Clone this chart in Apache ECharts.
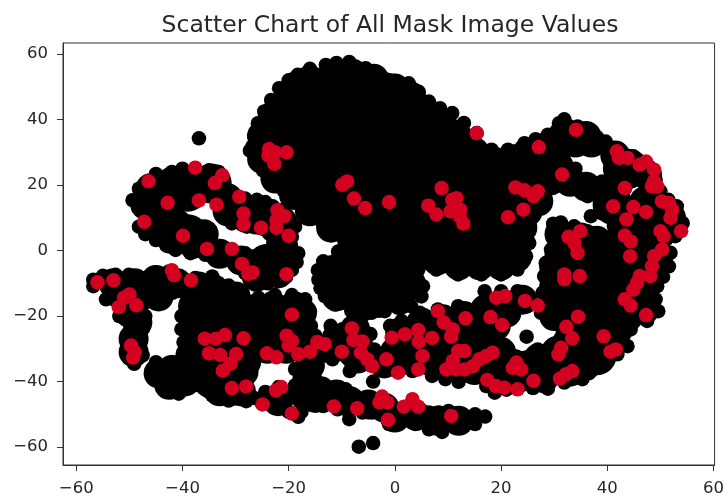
<!DOCTYPE html>
<html><head><meta charset="utf-8">
<style>html,body{margin:0;padding:0;background:#fff}#c{width:727px;height:497px}</style>
<script src="https://cdn.jsdelivr.net/npm/echarts@6/dist/echarts.min.js"></script>
</head><body><div id="c"></div>
<script>
const xTicks=[-60,-40,-20,0,20,40,60];
const yTicks=[-60,-40,-20,0,20,40,60];
const titleText='Scatter Chart of All Mask Image Values';
const maskedValues=[[-56,-9.7],[-53,-9.1],[-50,-13.4],[-51,-14.4],[-52,-17.3],[-48.7,-16.7],[-49.7,-29],[-49,-31],[-49.3,-32.7],[-46.4,21.2],[-42.8,14.6],[-47.2,8.8],[-39.9,4.5],[-37.6,25.3],[-36.9,15.3],[-33.9,20.6],[-32.5,23],[-33.6,14],[-29.3,16.4],[-28.5,11.3],[-28.5,8],[-25.2,7],[-22.1,12.3],[-20.8,10.5],[-22.3,9.3],[-22.3,7],[-20,4.5],[-35.4,.5],[-30.7,.5],[-28.8,-4.1],[-27.6,-7.1],[-26.8,-6.7],[-20.4,-7.2],[-42,-6],[-41.6,-7.5],[-38.4,-9.1],[-19.4,-19.6],[-35.8,-26.9],[-33.7,-26.9],[-32,-25.8],[-28.5,-26.8],[-35,-31.4],[-32.9,-31.9],[-29.9,-31.6],[-31,-34.6],[-32.4,-36.7],[-30.7,-42],[-28,-41.5],[-24.1,-31.4],[-22.3,-32.6],[-20.4,-26],[-19.4,-27.6],[-20,-29],[-18.2,-31.6],[-16,-30.9],[-14.6,-27.9],[-13.2,-28.6],[-10,-30.9],[-8.1,-23.8],[-7.8,-27.3],[-6.1,-27.8],[-6.4,-31.2],[-5.2,-33.2],[-4.3,-35.3],[-1.6,-33.2],[.6,-37.3],[-.6,-26.6],[-21.4,-41.7],[-22.4,-42.7],[-24.9,-47],[-19.4,-49.8],[-11.5,-47.6],[-7.1,-48.2],[-23.7,31],[-22.6,30],[-20.4,30],[-23.8,29],[-22.7,26.5],[-9.9,20.1],[-9,21.1],[-7.7,15.9],[-5.6,13],[-1.1,14.8],[15.4,35.9],[8.8,19.1],[6.3,13.7],[7.8,11],[10.8,15.5],[11.6,16],[10.5,12],[12.3,12.5],[12.2,10.5],[12.9,8.2],[22.7,19.3],[24.4,18.4],[26.9,18.1],[26.1,16.6],[24.2,12.5],[21.3,10.2],[27.1,31.6],[34.1,36.9],[31.5,23.2],[41.8,30.3],[42.2,28.3],[43.8,28.3],[46.1,26.2],[47.3,27.2],[48.8,24.7],[48.8,21.1],[48.4,19.6],[49.4,19.6],[43.3,19.1],[41.1,13.5],[44.9,13.3],[47.3,11.8],[43.6,9.5],[50.3,15],[51.6,14.5],[52.2,12.5],[51.9,10],[53.9,5.9],[50,5.9],[50.6,4.4],[50.3,.3],[48.8,-1.7],[48.4,-4.8],[48.1,-7.8],[46.1,-7.8],[45.6,-9.9],[44.9,-11.9],[43.3,-14.9],[44.4,-16.8],[47.3,-19.7],[43.3,4.6],[44.4,2.8],[44.3,-1.7],[32.7,4.2],[34.9,5.9],[33.8,2.3],[34.4,-.7],[31.9,-7.3],[31.9,-8.8],[34.8,-7.8],[19.1,-14.4],[20.8,-13.9],[24.5,-15.4],[26.9,-16.8],[18,-20.3],[20.2,-22.7],[34.5,-20.2],[32.3,-23.3],[33.4,-26.8],[39.3,-26.2],[40.6,-30.9],[41.6,-30.2],[31.3,-29.7],[30.8,-31.7],[33.4,-36.8],[32.2,-37.8],[31.1,-39.1],[26.1,-39.8],[22.9,-34.2],[22.2,-35.8],[23.8,-36.3],[23.1,-42.4],[20.6,-41.9],[19,-41.4],[17.4,-39.5],[18.4,-31.2],[17.2,-32.2],[15.9,-33.2],[14.7,-35.3],[13.1,-36.3],[11.6,-36.3],[9.7,-36.3],[10.9,-33.7],[11.9,-30.7],[13.1,-30.7],[8.1,-18.5],[9.2,-21.9],[10.9,-24.1],[10.6,-26.3],[13.3,-20.7],[1.9,-25.6],[4.4,-24.3],[4.5,-27.9],[7,-26.7],[5.2,-32.2],[4.4,-36.3],[-2.4,-44.6],[-2.9,-46.4],[-1.4,-46.4],[1.7,-47.7],[3.3,-45.4],[4.4,-47.7],[-1.3,-51.7],[10.6,-50.5]];
const clusterEdge=[[-36.9,34.3],[-6.8,-59.9],[-4.1,-58.8],[-4.1,-40],[24.8,-26.3],
[-49.4,15.4],[-48.2,18.9],[-45,23.4],[-42,24],[-37.6,24.6],[-33.2,24],[-32.3,19.4],[-28.2,15.9],[-24.4,14.8],[-21.3,11.8],[-18.8,7.3],[-19.4,4.2],[-18.2,-.8],[-19.4,-5.9],[-21.9,-8.9],[-26.3,-10.4],[-28.2,-6.9],[-31.3,-2.8],[-35.7,-1.3],[-41.3,.2],[-45,3.2],[-48.2,7.3],[-31.3,12.3],[-30.7,8.3],[-27.9,7.3],[-31.9,16.4],[-33.8,.2],[-36.9,3.2],[-25,-.8],[-28.2,-.8],[-22.9,2.2],[-19.9,1.2],[-21.3,6.3],
[-47,12],[-46.5,21],[-40,25],[-35,24.5],[-26,15.5],[-23,13.5],[-20,9.5],[-24,-10],[-20.5,-8],[-18.5,-3.5],[-33.5,-2],[-38.5,-.8],[-43,1.5],[-47,5],[-29.8,-5],
[-26.8,31.8],[-25.8,38.9],[-23.3,46],[-21.8,49.6],[-18.3,53.7],[-13,56.7],[-8.6,57.6],[-5.5,55.7],[-3,53.1],[2.6,51.1],[6.4,45.5],[10.8,42],[15.4,35.9],[18.2,30.8],[-27.3,30.5],[-24.8,24.4],[-21,18.4],[-17.3,12.8],[-13.5,7.8],[-9.8,4.2],
[-16,55.5],[-11,57.3],[-1,52],[0,51.8],[4.5,48.5],[8.5,43.5],[13,39],[-26.5,35],[-24.6,42.5],[-20,52],[-26,27.5],[-23,21.5],[-19,15.5],[-15.5,10.5],[-11.5,6],
[18.8,29.3],[21.3,30.8],[24.4,32.8],[28.8,35.4],[30.9,38.9],[31.9,40.1],[34.4,37.9],[37.5,35.4],[39.7,33.3],[42.2,30.8],[44.9,28.8],[47.8,25.7],[49.1,21.6],[50,18.1],[53.1,13.5],[54.2,8.4],[52.8,4.4],[51.9,-.7],[51.6,-4.8],[49.4,-10.9],[49.1,-14.9],[49.6,-18.5],[47.5,-21.5],[44.4,-24.1],[43.8,-29.2],[41.9,-31.7],[38.1,-35.3],[35.3,-39.3],[31.9,-40.3],[28.8,-42.2],[23.8,-41.2],[18.8,-43.4],[17.2,-41.4],
[26.5,34],[36,36.5],[51.5,15.5],[50.5,-8],[40,-33.5],[36.5,-37.5],[26,-42],[21,-42.5],
[30,30],[32.5,32],[35,32],[37.5,31],[39.8,32],[28.5,22],[31,25],[34,25],[32.5,19.1],[29.7,19.1],[26.9,13.5],[36.3,16.6],[36.9,21.1],[39,21.1],[40.3,28.8],[40.6,24.7],[42.5,22.7],[46.25,22.7],[45.9,14.5],[47.2,18.6],[39,14.6],[36.9,10.5],[38.8,11.5],[41,18],
[25.3,6.4],[23.1,-5.8],[24.7,-1.7],[25.3,2.3],[20,-7.3],[16.3,-7.3],[11.9,-7.3],[7.8,-5.8],[4.7,-2.7],
[-14.4,-8.9],[-13.2,-13.9],[-11.3,-16.5],[-8.2,-18.5],[-5.7,-19.5],[-13.5,-3.3],[-10.7,-.3],[-4.4,-19],[-1.9,-18.5],[3.1,-17],[.6,-17.5],[5.3,-10.9],[5,-14],[-14.5,-6],[-14,-11.5],
[-56.8,-8.9],[-55,-7.7],[-52.6,-7.4],[-50.1,-7.4],[-47.9,-8.4],[-45.1,-6.7],[-42.6,-6.4],[-40,-8.4],[-37.6,-8.4],[-34.4,-7.9],[-31.3,-10.7],[-28.8,-14.4],[-25.7,-14.4],[-22.6,-13.6],[-19.4,-13.6],[-16.9,-14.9],[-16,-18.5],[-15.8,-23],
[-56.8,-10.9],[-54.4,-14.9],[-51.9,-20],[-49.4,-22],[-50.4,-26.2],[-50.4,-30.6],[-49.1,-34.6],[-45,-34.1],[-43.8,-38.7],[-40.7,-43.7],[-37.9,-41.2],[-39.1,-38.2],
[-50,-12],[-47,-12],[-45,-11],[-43,-10],[-40,-12],[-53,-12],[-46.5,-15.5],[-50,-16],[-53.5,-13],[-51,-18],[-47,-20],[-49,-19],[-47.5,-24],[-48,-28],[-47.5,-32],[-44.4,-16],[-41.9,-12.9],[-40.2,-20],[-40.2,-24],[-39.8,-28],[-41.9,-34.1],[-39,-31],[-42.9,-40.2],[-43.2,-36.7],[-39.4,-36.2],[-40.7,-41],
[-24.4,-29],[-27,-29],[-27.6,-33.1],[-27.6,-36.8],[-28.2,-43.2],[-26.5,-45],[-34.4,-44.2],[-31.3,-45.8],[-28,-46],
[-24.4,-43.2],[-21.9,-41.7],[-25,-46.8],[-21.9,-45.3],[-19.4,-43.2],[-17.6,-49.3],[-18.2,-50.8],[-20,-49.3],[-18,-46],
[-18.8,-36.2],[-18.8,-41.2],[-16.3,-41.2],[-15.5,-37.3],[-15.5,-42.4],[-12.4,-42.4],[-14.1,-32.2],[-11.75,-33.2],[-8.5,-36.8],[-9.25,-42.4],[-7.1,-45.4],[-4.9,-45.4],[-13.5,-45.4],[-11,-45.4],[-9.25,-48.5],[-17.4,-38.3],[-17.4,-42.4],[-8.6,-33.2],[-13.5,-47.5],[-17.1,-46.5],
[-12.1,-23],[-9.9,-24],[-6.1,-24],[-4.6,-25.5],[-3.9,-30.2],[-11.75,-28.1],[-10,-27],[-15,-26],[-16,-28],
[6.4,-49.5],[8.3,-49.5],[10.1,-49],[12.6,-50],[15.1,-50],[17,-50.7],[15.1,-53],[12,-54],[8.9,-55.4],[6.4,-54.6],[3.9,-53],[1.4,-52],[-1.1,-53],[-1.1,-49.5],[-4.3,-49.5],[-6.1,-49.5],[-8.6,-51.5],[-10.8,-48.5],[1.4,-49.5],[3.9,-49.5],[6.7,-52.5],[9.5,-52.5],
[-1.4,-36.3],[3.3,-36.8],[7,-38.3],[9.5,-39.3],[12,-40.1],[14.5,-38.3],[-.9,-23],[1.25,-21.5],[4.7,-19],[8.1,-18],[11.9,-17],[15.6,-17.5],[17.5,-15],[16.9,-12.4],[20,-12.4],[23.1,-12.4],[27.5,-19],[21.25,-21],[18.75,-25.1],[16.9,-28.2],[21.25,-30.7],[24.4,-33.7],[26.9,-30.2],[29.4,-29.2],[30.6,-22],[25,-17],
[29.8,8.2],[31.25,8.6],[30.6,4.4],[29.4,.3],[28.4,-3.8],[28.1,-7.8],[27.8,-12.9],[28.4,-14.9],[30.6,-17.5],[33.75,7.4],[36.25,5.9],[38.75,4.9],[41.25,7.4]];
const clusterFill=[[-16,52],[-12,53],[-8,54],[-4,52.5],[0,49.5],[3,47],[6,42],[9,38],[12,34],[15,30],[-20,47],[-23,41],[-25,35],[-25,28],[-22.5,22],[-19,17],[-16,12],[-12,7],[-8,2.5],[19,27],[23,28],[27,30],[31,34],[34,33],[4,-1],[8,-3],[12,-4.5],[16,-4.5],[20,-4.5],[23,-2],[23.5,3],[24,7],[25,12],[27,15],[30,22],
[-47,14],[-46,19],[-42,21],[-38,21.5],[-34,21],[-44,6],[-41,8],[-42,3.5],[-38,2],[-36,5],[-33,-1],[-29,-3],[-26,-4],[-26,-8],[-22,-7],[-22,-3],[-21,1],[-29,13],[-25,12],[-22,10],[-28,10],[-24.5,9],[-21,6],[-31.5,16],[-31.5,12],
[-53,-10],[-49,-10],[-45,-9],[-41,-10],[-37,-11],[-52,-13],[-48,-14],[-44.5,-14],[-50,-19],[-48.5,-22],[-49.2,-27],[-49.2,-31],[-38,-17],[-38,-23],[-38,-29],[-38.5,-32],[-42,-36.5],[-44.5,-37.5],[-42.5,-41],[-39.5,-40],
[-34,-12],[-30,-14],[-33,-17],[-27,-18],[-23,-17],[-19,-17],[-19,-22],[-34,-22],[-34,-28],[-33,-33],[-35,-36],[-28,-24],[-24,-24],[-20,-24],[-25,-27],[-17.5,-19],[-18,-23],[-28.5,-29],[-28,-34],[-33,-43],[-31,-43],[-29,-43],[-33,-38],[-29,-38],[-28.5,-37],[-22,-46],[-24,-30],[-20.5,-30],[-17,-29],
[-16,-35],[-16.5,-39.5],[-14,-43],[-11,-44],[-15,-45],[-8.5,-46],[-5,-47],[-2,-48],[-12,-30],[-8,-31],[-11,-27],[-7,-28],[-7.5,-24],[-7,-33],[-2,-34.5],
[0,-31],[.5,-34],[3,-33],[7,-34],[11,-35],[15,-36.5],[1,-25],[5,-22],[9,-21],[13,-20],[16,-21],[17,-18],[20,-17],[24,-15],[21,-19],[19,-23],[16,-26],[13,-26],[12,-32],[7,-31],[18,-35],[20,-31],[17,-36],[20,-38],[24,-38],[28,-39],[25,-35],[20,-34.5],[27,-33],[30,-35],[34,-36],[32.5,-28],[30,-20],
[31,-1],[30,-5],[30,-11],[31,5],[35,4],[38,3],[42,3],[46,4],[49,3],[49.5,-3],[47,-12],[47,-18],[44,-20],[40,-28],[37,-28],[36,-35],[33,-37],[44,26],[42,20],[47.5,23],[49,14],[52,10],[50,5],[43,11],[47,15],[52,7],[36,35],[32,36],[29,32],[25,30],[22,27],[37,33],[41.5,29],[42,25],[33,21],[36,19.5],[28,25],[28,21],
[-12,-6],[-12,-10],[-11,-14],[-7,-16],[-3,-16],[1,-15],[3,-10],[3,-5],[-8,-1],[-3,-1],[1,-1],[0,-51],[4,-50.5],[8,-52],[12,-52]];
const clusterCore=[[-18,49],[-13,49],[-8,49],[-3,49],[-21,42],[-16,42],[-11,42],[-6,42],[-1,42],[4,42],[-23,34],[-18,34],[-13,34],[-8,34],[-3,34],[2,34],[7,34],[11,34],[-21,26],[-16,26],[-11,26],[-6,26],[-1,26],[4,26],[9,26],[14,25],[20,25],[25,25],[30,25],[-16,18],[-11,18],[-6,18],[-1,18],[4,18],[9,18],[14,18],[19,18],[24,18],[-10,11],[-7,10],[-2,10],[3,10],[8,10],[13,10],[18,10],[22,10],[-6,2],[-1,2],[4,2],[9,2],[14,2],[19,2],[21,2],[12,-1],[17,-1],[21,-1],
[-9,-5],[-4,-5],[1,-5],[-10,-12],[-5,-12],[0,-12],
[-45,17],[-39,18],[-34.5,20.5],[-44,10],[-39,5],[-26,11],[-22,8],[-24,-4],
[-36.3,-13.9],[-36.3,-22],[-36.3,-30.1],[-31.3,-18],[-31.3,-26.1],[-31.3,-33.1],[-26.3,-21],[-21.3,-20],[-19.4,-21],[-34.4,-39.2],[-31.3,-40.2],
[33,0],[38,0],[43,0],[47.5,0],[32,-8],[37,-8],[42,-8],[47,-8],[32,-16],[37,-16],[42,-16],[45.5,-16],[34,-24],[38,-24],[41,-24],[31,-32],[36,-32],[38,-32],[28,-36],[22,-36],[44,25],[44,8],[46,9],[49.5,8],[41,14],[46,11],
[2,-27],[5,-30],[10,-31],[15,-31],[10,-25],[14,-24]];
const chart=echarts.init(document.getElementById('c'),null,{renderer:'canvas'});
const axisBase={type:'value',splitLine:{show:false},
  axisLine:{show:true,onZero:false,lineStyle:{color:'#333',width:1}},
  axisTick:{show:true,length:6,lineStyle:{color:'#333',width:1}},
  axisLabel:{color:'#262626',fontFamily:'DejaVu Sans',fontSize:16.5,margin:15}};
const minusFmt=v=>String(v).replace('-','\u2212');
chart.setOption({animation:false,
 title:{text:titleText,left:385,top:9,textAlign:'center',textStyle:{fontFamily:'DejaVu Sans',fontWeight:'normal',fontSize:23.5,color:'#262626'}},
 grid:{left:63,top:43,width:654,height:423,show:true,borderColor:'#333',borderWidth:1,backgroundColor:'#fff'},
 xAxis:{...axisBase,min:-62.5,max:60.2,axisTick:{...axisBase.axisTick,customValues:xTicks},axisLabel:{...axisBase.axisLabel,customValues:xTicks,formatter:minusFmt}},
 yAxis:{...axisBase,min:-65.5,max:63.4,axisTick:{...axisBase.axisTick,customValues:yTicks},axisLabel:{...axisBase.axisLabel,customValues:yTicks,formatter:minusFmt}},
 series:[
  {type:'scatter',name:'core',data:clusterCore,symbolSize:40,itemStyle:{color:'#000',opacity:1},silent:true,z:2},
  {type:'scatter',name:'fill',data:clusterFill,symbolSize:30,itemStyle:{color:'#000',opacity:1},silent:true,z:2},
  {type:'scatter',name:'all',data:clusterEdge,symbolSize:14.5,itemStyle:{color:'#000',opacity:1},silent:true,z:3},
  {type:'scatter',name:'masked',data:maskedValues,symbolSize:14.5,itemStyle:{color:'#d4001f',opacity:1},silent:true,z:4}
 ]});
</script></body></html>
